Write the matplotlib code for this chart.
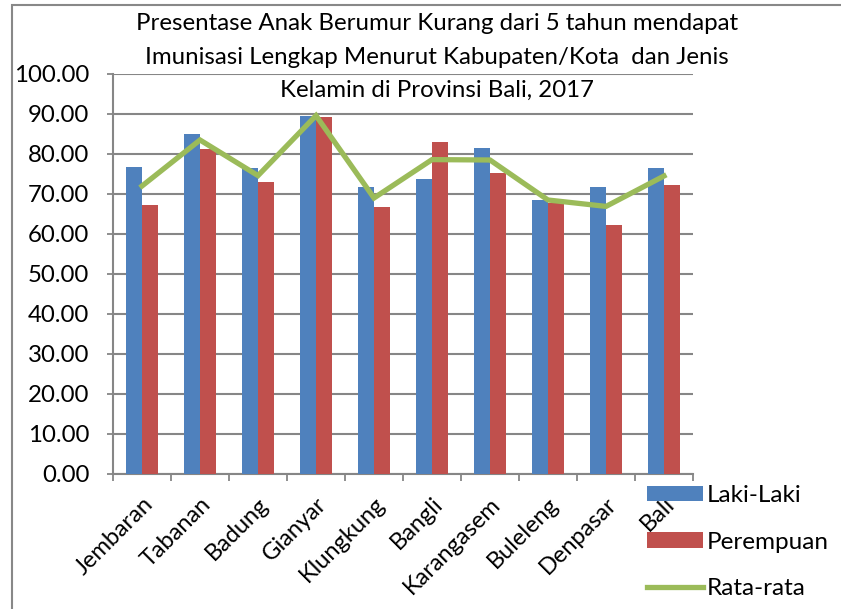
import matplotlib
matplotlib.use("Agg")
import matplotlib.pyplot as plt
import matplotlib.patches as patches
import numpy as np

# data
kabupaten = ['Jembaran', 'Tabanan', 'Badung', 'Gianyar', 'Klungkung',
             'Bangli', 'Karangasem', 'Buleleng', 'Denpasar', 'Bali']
laki_laki = [76.8, 85.1, 76.5, 89.5, 71.7, 73.8, 81.4, 68.5, 71.8, 76.4]
perempuan = [67.3, 81.3, 73.0, 89.3, 66.7, 83.0, 75.3, 67.8, 62.2, 72.3]
rata_rata = [72.0, 83.5, 74.6, 89.6, 69.0, 78.6, 78.5, 68.5, 66.9, 74.5]
yticks = [0, 10, 20, 30, 40, 50, 60, 70, 80, 90, 100]

title = ('Presentase Anak Berumur Kurang dari 5 tahun mendapat\n'
         'Imunisasi Lengkap Menurut Kabupaten/Kota  dan Jenis\n'
         'Kelamin di Provinsi Bali, 2017')

plt.rcParams['font.family'] = ['Lato', 'DejaVu Sans']

W, H = 841, 609
fig = plt.figure(figsize=(W / 100, H / 100), dpi=100)
ax = fig.add_axes([113 / W, 1 - 474 / H, (693 - 113) / W, (474 - 74) / H])

x = np.arange(len(kabupaten))
bw = 0.28
b1 = ax.bar(x - bw / 2, laki_laki, bw, color='#4F81BD', label='Laki-Laki', zorder=3)
b2 = ax.bar(x + bw / 2, perempuan, bw, color='#C0504D', label='Perempuan', zorder=3)
l1, = ax.plot(x, rata_rata, color='#9BBB59', lw=3.8, label='Rata-rata', zorder=4,
              solid_joinstyle='miter')

ax.set_xlim(-0.5, len(kabupaten) - 0.5)
ax.set_ylim(0, 100)
ax.set_yticks(yticks)
ax.set_yticklabels(['%.2f' % v for v in yticks], fontsize=17.3)
ax.yaxis.grid(True, color='#868686', lw=1.5, zorder=0)
ax.set_axisbelow(True)

# category labels at centers, tick marks at the boundaries
ax.set_xticks(x)
ax.set_xticklabels(kabupaten, rotation=45, ha='right', rotation_mode='anchor', fontsize=17)
ax.set_xticks(np.arange(-0.5, len(kabupaten)), minor=True)
ax.tick_params(axis='x', which='major', length=0, pad=14)
ax.tick_params(axis='x', which='minor', length=5, width=1.3, color='#868686', direction='out')
ax.tick_params(axis='y', length=4.5, width=1.3, color='#868686', pad=12.5)

for s in ['top', 'right']:
    ax.spines[s].set_visible(False)
for s in ['left', 'bottom']:
    ax.spines[s].set_color('#868686')
    ax.spines[s].set_linewidth(1.5)

fig.text(437 / W, 1 - 57 / H, title, ha='center', va='center', fontsize=17.3,
         linespacing=1.72)

fig.legend(handles=[b1, b2, l1], loc='upper left', bbox_to_anchor=(635 / W, 1 - 473 / H),
           frameon=False, fontsize=17.5, handlelength=2.3, handleheight=0.6,
           labelspacing=1.05, handletextpad=0.15, borderpad=0)

# chart area border (only top and left are visible)
fig.patches.append(patches.Rectangle((12 / W, -0.1), 1.5, 1 - 5 / H + 0.1,
                                     transform=fig.transFigure, fill=False,
                                     edgecolor='#888888', lw=1.5))

plt.savefig('out.png', dpi=100)
